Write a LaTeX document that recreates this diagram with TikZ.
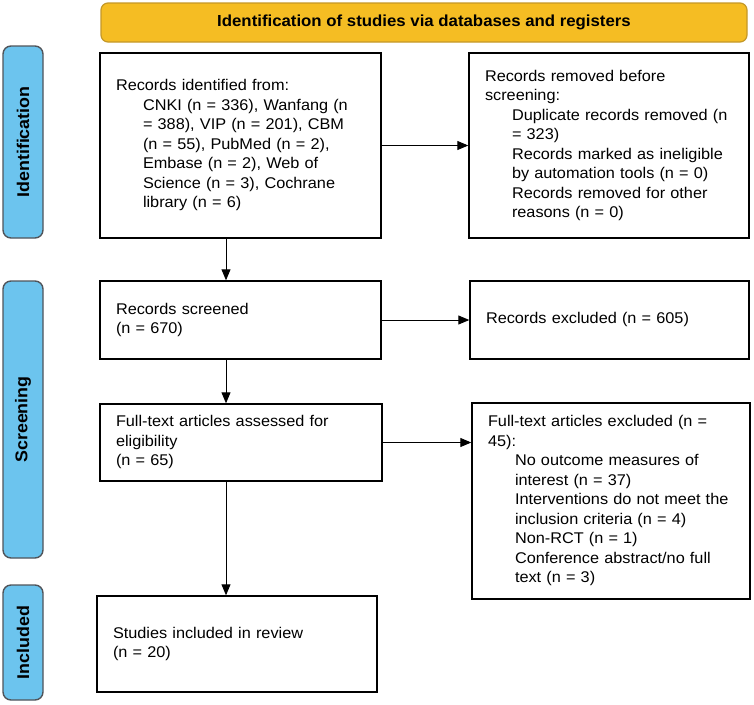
\documentclass[tikz,border=0pt]{standalone}
\usepackage{fontspec}
\setmainfont{Liberation Sans}[FakeStretch=1.05]
\usetikzlibrary{arrows.meta}
\definecolor{headfill}{RGB}{245,189,35}
\definecolor{headline}{RGB}{196,152,40}
\definecolor{sidefill}{RGB}{108,196,238}
\definecolor{sideline}{RGB}{80,84,90}
\newcommand\mainfs{\fontsize{15.5}{19.5}\selectfont}
\newcommand\subind{\hspace*{27pt}}
\begin{document}
\begin{tikzpicture}[x=1pt,y=-1pt,
  box/.style={draw=black, line width=1.4pt, inner xsep=16pt, inner ysep=0pt, align=left, font=\mainfs},
  head/.style={draw=headline, fill=headfill, line width=1.2pt, rounded corners=7pt, font=\bfseries\fontsize{16}{19}\selectfont},
  side/.style={draw=sideline, fill=sidefill, line width=1.4pt, rounded corners=8pt, rotate=90, minimum height=40pt, inner sep=0pt, font=\bfseries\fontsize{17}{19}\selectfont},
  conn/.style={-{Triangle[length=11pt,width=9pt]}, line width=0.9pt}]
\useasboundingbox (0,0) rectangle (754,704);

% header
\node[head, minimum width=646pt, minimum height=39pt] (hdr) at (424,22.5) {Identification of studies via databases and registers};

% side bars
\node[side, minimum width=192pt] (s1) at (23,142) {Identification};
\node[side, minimum width=277pt] (s2) at (23,419.5) {Screening};
\node[side, minimum width=115pt] (s3) at (23,642.5) {Included};

% boxes
\node[box, text width=249pt, minimum height=185pt] (b1) at (240.5,145.5) {\begin{tabular}{@{}l@{}}
Records identified from:\\
\subind CNKI (n = 336), Wanfang (n\\
\subind = 388), VIP (n = 201), CBM\\
\subind (n = 55), PubMed (n = 2),\\
\subind Embase (n = 2), Web of\\
\subind Science (n = 3), Cochrane\\
\subind library (n = 6)
\end{tabular}};

\node[box, text width=248pt, minimum height=185pt] (b2) at (609,145.5) {\begin{tabular}{@{}l@{}}
Records removed before\\
screening:\\
\subind Duplicate records removed (n\\
\subind = 323)\\
\subind Records marked as ineligible\\
\subind by automation tools (n = 0)\\
\subind Records removed for other\\
\subind reasons (n = 0)
\end{tabular}};

\node[box, text width=249pt, minimum height=78pt] (b3) at (240.5,320) {\begin{tabular}{@{}l@{}}
Records screened\\
(n = 670)
\end{tabular}};

\node[box, text width=247pt, minimum height=78pt] (b4) at (609.5,320) {\begin{tabular}{@{}l@{}}
Records excluded (n = 605)
\end{tabular}};

\node[box, text width=250pt, minimum height=77pt] (b5) at (241,442.5) {\begin{tabular}{@{}l@{}}
Full-text articles assessed for\\
eligibility\\
(n = 65)
\end{tabular}};

\node[box, text width=246pt, minimum height=196pt] (b6) at (611,501) {\begin{tabular}{@{}l@{}}
Full-text articles excluded (n =\\
45):\\
\subind No outcome measures of\\
\subind interest (n = 37)\\
\subind Interventions do not meet the\\
\subind inclusion criteria (n = 4)\\
\subind Non-RCT (n = 1)\\
\subind Conference abstract/no full\\
\subind text (n = 3)
\end{tabular}};

\node[box, text width=248pt, minimum height=96pt] (b7) at (237,644) {\begin{tabular}{@{}l@{}}
Studies included in review\\
(n = 20)
\end{tabular}};

% connectors
\coordinate (ax) at (226,0);
\draw[conn] (b1.south -| ax) -- (b3.north -| ax);
\draw[conn] (b3.south -| ax) -- (b5.north -| ax);
\draw[conn] (b5.south -| ax) -- (b7.north -| ax);
\draw[conn] (b1.east) -- (b2.west |- b1.east);
\draw[conn] (b3.east) -- (b4.west |- b3.east);
\draw[conn] (b5.east) -- (b6.west |- b5.east);
\end{tikzpicture}
\end{document}
